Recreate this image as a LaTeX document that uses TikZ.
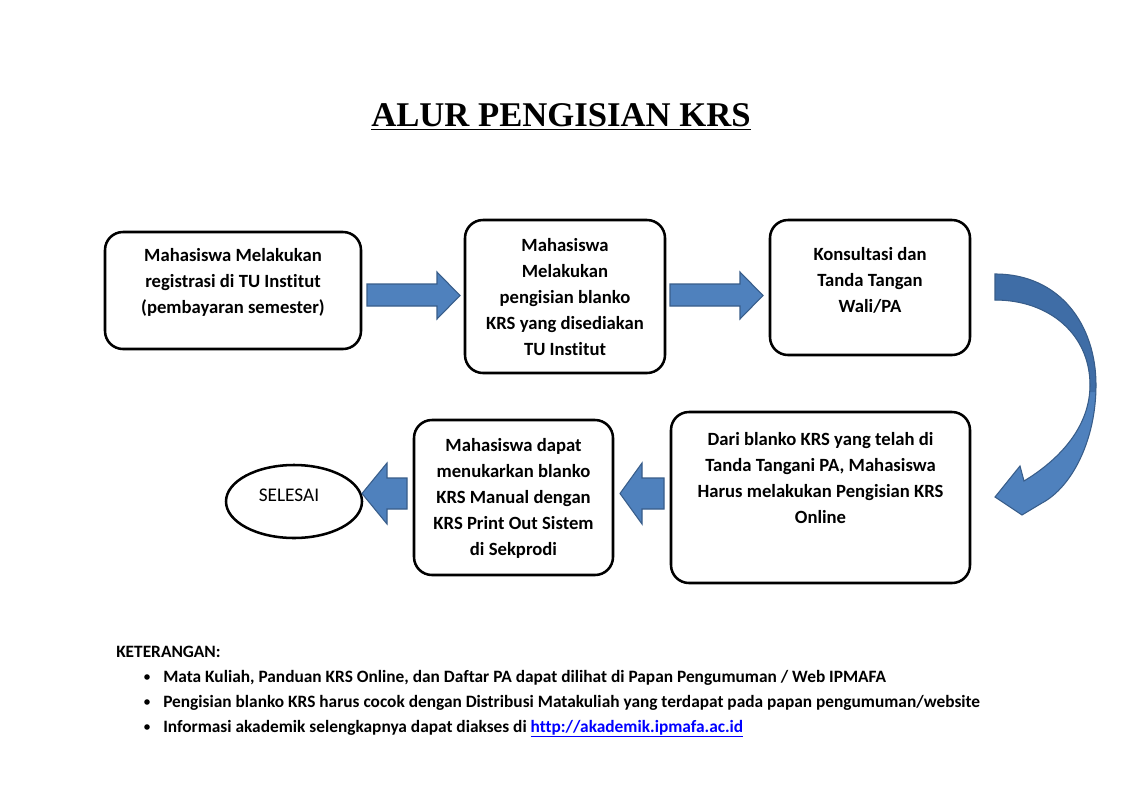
\documentclass[tikz,border=0pt]{standalone}
\usepackage{fontspec}
\setmainfont{Carlito}[Ligatures=NoCommon]
\newfontfamily\titlefont{Liberation Serif}
\usetikzlibrary{shapes.geometric}
\definecolor{arrfill}{HTML}{4F81BD}
\definecolor{arrdraw}{HTML}{385D8A}
\definecolor{arrdark}{HTML}{3F6DA6}
\definecolor{linkblue}{HTML}{0000FF}
\tikzset{
  stepbox/.style={draw=black, line width=1.9pt, rounded corners=13.5pt, inner sep=0pt},
  endell/.style={draw=black, line width=1.9pt, ellipse, inner sep=0pt},
  boxtext/.style={align=center, font=\fontsize{14}{19.5}\selectfont\bfseries, inner sep=0pt},
  blockarrow/.style={fill=arrfill, draw=arrdraw, line width=0.8pt, line join=miter},
  notetext/.style={anchor=base west, font=\fontsize{13}{15}\selectfont\bfseries, inner sep=0pt},
  bulletdot/.style={circle, fill=black, inner sep=0pt, minimum size=4.2pt},
}
\begin{document}
\begin{tikzpicture}[x=0.75pt,y=-0.75pt]
\useasboundingbox (0,0) rectangle (1122,793);
\fill[white] (0,0) rectangle (1122,793);

% title
\node[inner sep=0pt, font=\titlefont\fontsize{26}{30}\selectfont\bfseries] (title) at (561,117) {\underline{ALUR PENGISIAN KRS}};

% boxes
\node[stepbox, minimum width=192pt, minimum height=87.75pt] (b1) at (233,290.5) {};
\node[stepbox, minimum width=150pt, minimum height=114.75pt] (b2) at (565,296.5) {};
\node[stepbox, minimum width=150pt, minimum height=101.25pt] (b3) at (870,287.5) {};
\node[stepbox, minimum width=224.25pt, minimum height=128.25pt] (b4) at (820.5,497.5) {};
\node[stepbox, minimum width=149.25pt, minimum height=116.25pt] (b5) at (513.5,497.5) {};
\node[endell, minimum width=102pt, minimum height=54.75pt] (e) at (294,501.5) {};

% texts
\node[boxtext] (t1) at (233,282) {Mahasiswa Melakukan\\registrasi di TU Institut\\(pembayaran semester)};
\node[boxtext] (t2) at (565,297) {Mahasiswa\\Melakukan\\pengisian blanko\\KRS yang disediakan\\TU Institut};
\node[boxtext] (t3) at (870,280) {Konsultasi dan\\Tanda Tangan\\Wali/PA};
\node[boxtext] (t4) at (820.5,478) {Dari blanko KRS yang telah di\\Tanda Tangani PA, Mahasiswa\\Harus melakukan Pengisian KRS\\Online};
\node[boxtext] (t5) at (513.5,498) {Mahasiswa dapat\\menukarkan blanko\\KRS Manual dengan\\KRS Print Out Sistem\\di Sekprodi};
\node[inner sep=0pt, font=\fontsize{14.5}{16}\selectfont] (t6) at (289,495) {SELESAI};

% block arrows
\draw[blockarrow] (367,284) -- (437,284) -- (437,272) -- (460,295.5) -- (437,319) -- (437,306) -- (367,306) -- cycle;
\draw[blockarrow] (670,284) -- (740,284) -- (740,272) -- (763,295.5) -- (740,319) -- (740,306) -- (670,306) -- cycle;
\draw[blockarrow] (664,478) -- (642,478) -- (642,463) -- (620,493.5) -- (642,524) -- (642,509) -- (664,509) -- cycle;
\draw[blockarrow] (407,478) -- (387,478) -- (387,463) -- (362,493.5) -- (387,524) -- (387,509) -- (407,509) -- cycle;

% curved arrow
\def\curvedpath{(995,274) .. controls (1060,274) and (1096,325) .. (1096,385)
  .. controls (1096,440) and (1072,487) .. (1042,503)
  -- (1022,515) -- (995,497) -- (1020,466) -- (1024,481)
  .. controls (1062,458) and (1090,425) .. (1090,385)
  .. controls (1090,335) and (1050,300) .. (995,300) -- cycle}
\fill[arrfill] \curvedpath;
\begin{scope}
  \clip \curvedpath;
  \fill[arrdark] (990,260) -- (1110,260) -- (1110,392) -- (1085,392) -- (990,310) -- cycle;
\end{scope}
\draw[arrdraw, line width=0.8pt, line join=miter] \curvedpath;

% notes
\node[notetext] (k0) at (116,657) {KETERANGAN:};
\node[bulletdot] (d1) at (147,677) {};
\node[bulletdot] (d2) at (147,702) {};
\node[bulletdot] (d3) at (147,727) {};
\node[notetext] (k1) at (163,682) {Mata Kuliah, Panduan KRS Online, dan Daftar PA dapat dilihat di Papan Pengumuman / Web IPMAFA};
\node[notetext] (k2) at (163,707) {Pengisian blanko KRS harus cocok dengan Distribusi Matakuliah yang terdapat pada papan pengumuman/website};
\node[notetext] (k3) at (163,732) {Informasi akademik selengkapnya dapat diakses di \textcolor{linkblue}{\underline{http://akademik.ipmafa.ac.id}}};
\end{tikzpicture}
\end{document}
